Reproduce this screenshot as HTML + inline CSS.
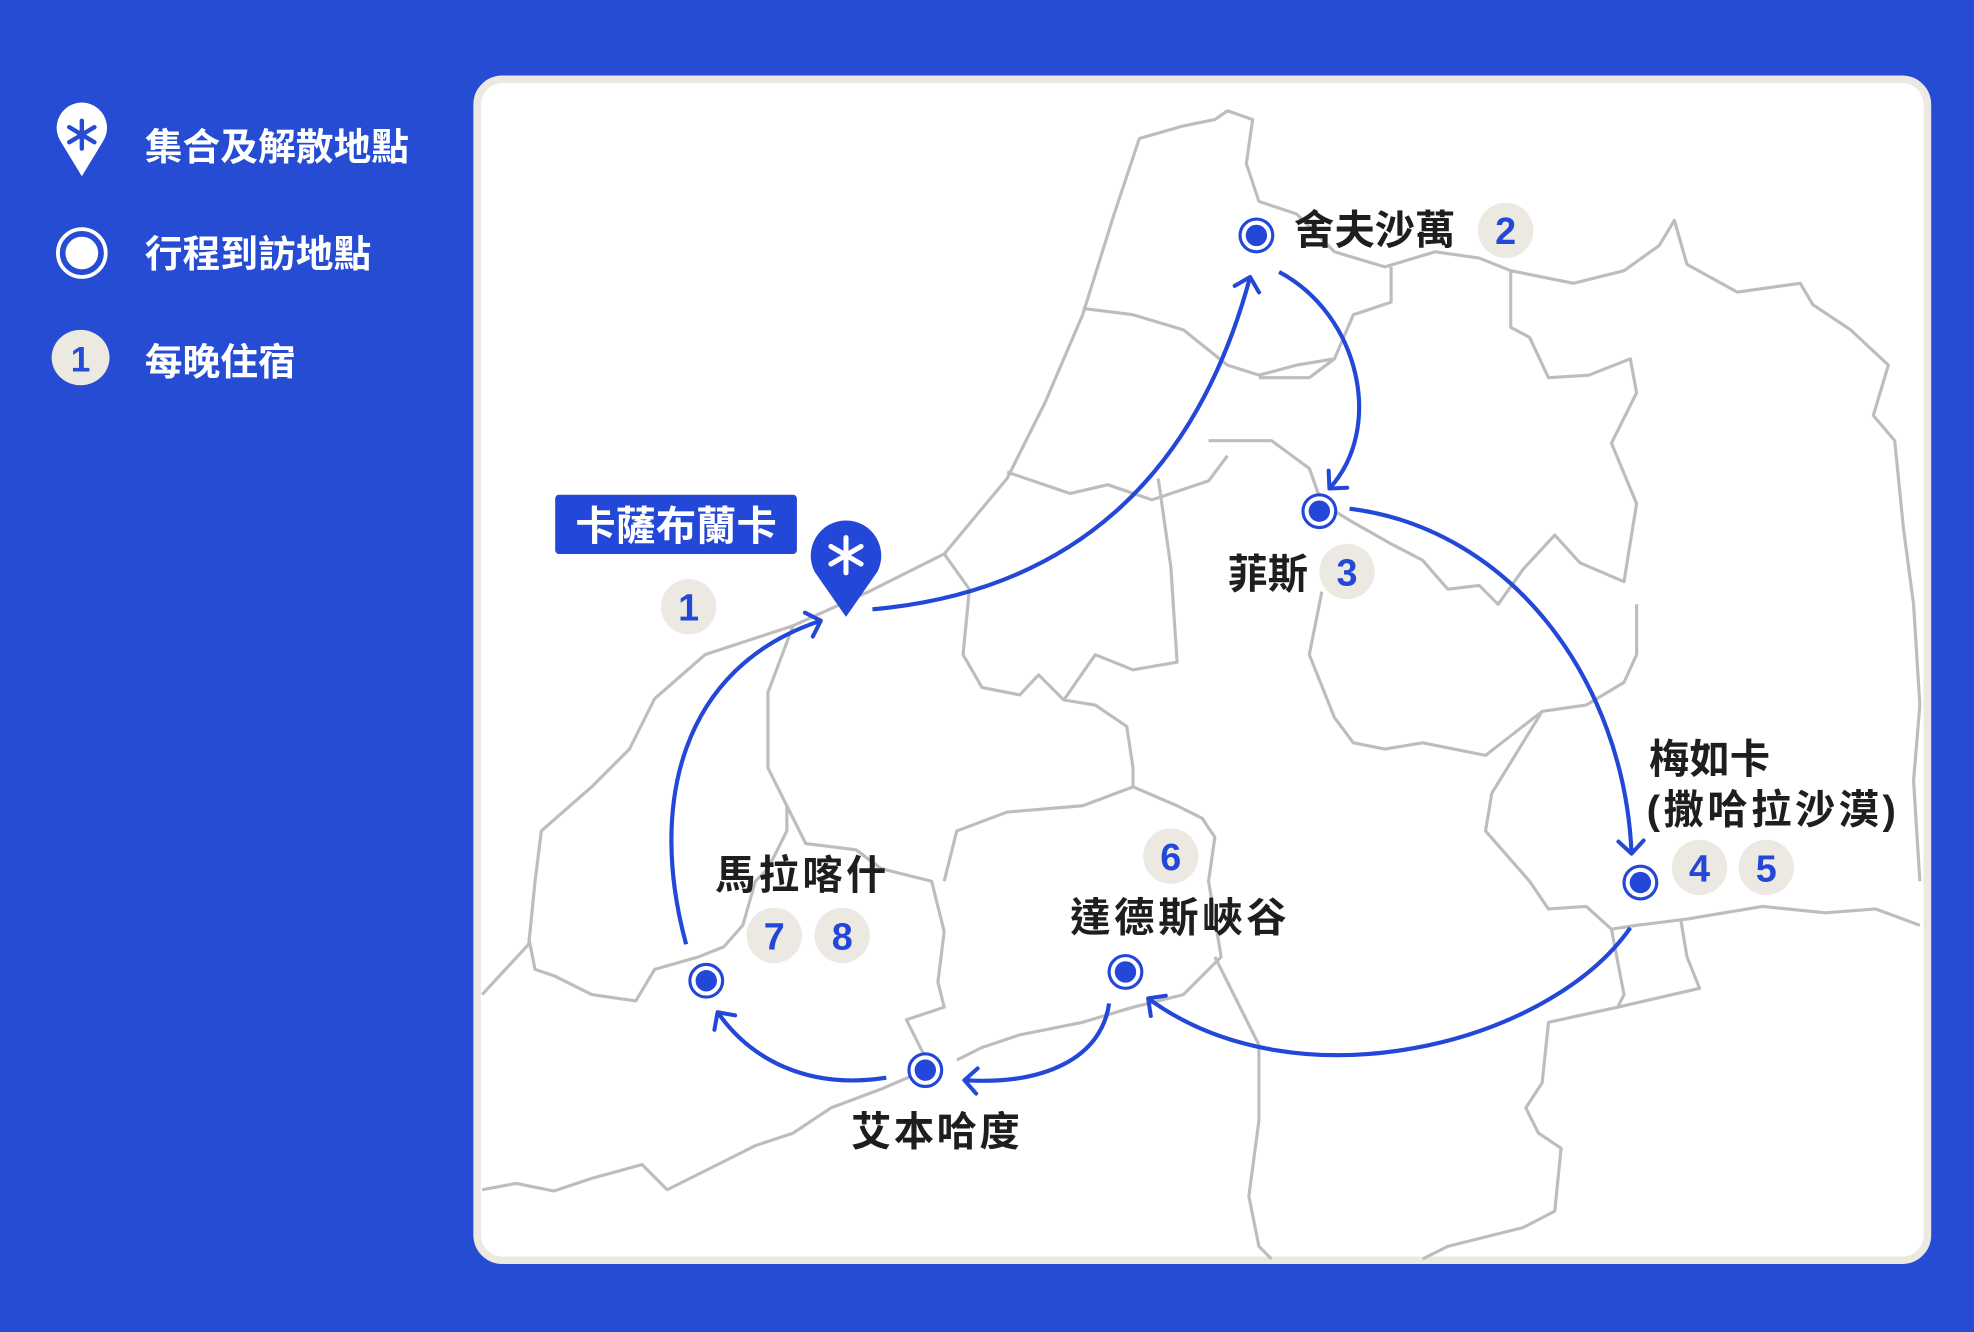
<!DOCTYPE html>
<html><head><meta charset="utf-8"><style>
html,body{margin:0;padding:0;background:#254CD3;}
svg{display:block;}
text{font-family:"Liberation Sans","Noto Sans CJK TC",sans-serif;font-weight:700;}
</style></head><body>
<svg width="1974" height="1332" viewBox="0 0 1568 1058" preserveAspectRatio="none" xmlns="http://www.w3.org/2000/svg">
<defs>
<marker id="ah" viewBox="0 0 24 24" refX="12" refY="12" markerWidth="24" markerHeight="24" markerUnits="userSpaceOnUse" orient="auto">
<path d="M2,2 L12,12 L2,22" fill="none" stroke="#2347D6" stroke-width="3.2" stroke-linecap="round" stroke-linejoin="round"/>
</marker>
</defs>
<rect width="1568" height="1058" fill="#254CD3"/>
<rect x="379" y="63" width="1152" height="938" rx="20" fill="#fff" stroke="#ECE9E3" stroke-width="6"/>

<path d="M65,140 L48,112 A20,20 0 1,1 82,112 Z" fill="#fff"/>
<g stroke="#254CD3" stroke-width="3.5" stroke-linecap="round"><line x1="65" y1="96" x2="65" y2="118"/><line x1="55" y1="101" x2="75" y2="113"/><line x1="75" y1="101" x2="55" y2="113"/></g>
<text x="115" y="127" font-size="30" fill="#fff">集合及解散地點</text>
<circle cx="65" cy="201" r="19" fill="none" stroke="#fff" stroke-width="3"/>
<circle cx="65" cy="201" r="13" fill="#fff"/>
<text x="115" y="212" font-size="30" fill="#fff">行程到訪地點</text>
<ellipse cx="64" cy="284" rx="23" ry="22" fill="#ECE9E3"/>
<text x="64" y="295" font-size="28" fill="#254CD3" text-anchor="middle">1</text>
<text x="115" y="298" font-size="30" fill="#fff">每晚住宿</text>

<g fill="none" stroke="#BDBDBD" stroke-width="2.5" stroke-linejoin="round">
<path d="M383,790 L420,750 L425,700 L430,660 L470,625 L500,595 L520,555 L560,520 L630,497 L690,470 L750,440 L800,380 L830,320 L860,250 L885,170 L905,110 L940,100 L965,95 L975,88 L995,95 L990,130 L1000,160 L1030,170 L1060,200 L1100,212 L1140,200 L1175,205 L1200,215 L1250,225 L1290,215 L1318,195 L1330,175 L1340,210 L1380,232 L1430,225 L1440,242 L1470,262 L1500,290 L1488,330 L1505,350 L1512,420 L1520,480 L1525,560"/>
<path d="M860,245 L900,250 L940,262 L975,290 L1000,298 L1030,290 L1060,285"/>
<path d="M800,375 L850,392 L880,385 L915,397 L960,382 L975,362"/>
<path d="M750,440 L770,468 L765,520 L780,546 L810,552 L825,536 L845,556 L870,520 L900,532 L935,526 L930,450 L920,380"/>
<path d="M960,350 L1010,350 L1040,372 L1050,400 L1075,415 L1105,432 L1130,445 L1150,468 L1175,465 L1190,480 L1210,452 L1235,425 L1255,447 L1290,462 L1300,400 L1280,352 L1300,312 L1295,285 L1262,298 L1230,300 L1215,268 L1200,260 L1200,215"/>
<path d="M1050,470 L1040,520 L1060,570 L1075,590 L1100,595 L1130,590 L1180,600 L1225,565 L1260,560 L1290,542 L1300,520 L1300,480"/>
<path d="M1225,565 L1185,630 L1180,660 L1215,700 L1230,722 L1260,720 L1280,738 L1300,735 L1340,730 L1400,720 L1450,725 L1490,722 L1525,735"/>
<path d="M1525,560 L1520,620 L1525,700"/>
<path d="M1280,738 L1290,790 L1285,800 L1350,785 L1340,760 L1335,730"/>
<path d="M1285,800 L1230,812 L1225,860 L1212,880 L1222,900 L1240,912 L1235,962 L1210,975 L1150,990 L1130,1000"/>
<path d="M965,760 L1000,830 L1000,890 L992,950 L1000,990 L1010,1000"/>
<path d="M630,497 L610,550 L610,610 L625,640 L625,660 L610,690 L600,700 L590,735 L575,752 L555,760 L520,770 L505,795 L470,790 L440,775 L425,770 L420,745"/>
<path d="M625,640 L640,670 L680,675 L700,690 L740,700 L750,740 L745,780 L750,800 L720,810 L735,840"/>
<path d="M750,700 L760,660 L800,645 L860,640 L900,625 L935,640 L955,650 L965,665 L960,700 L970,760 L940,790 L900,800 L860,812 L810,822 L780,832 L760,842"/>
<path d="M845,556 L870,560 L895,577 L900,610 L900,625"/>
<path d="M383,945 L410,940 L440,946 L470,936 L510,925 L530,945 L560,930 L600,910 L630,900 L660,880 L700,865 L735,850"/>
<path d="M1105,212 L1105,240 L1075,250 L1060,285 L1040,300 L1000,300"/>
</g>

<g fill="none" stroke="#2347D6" stroke-width="3.3" marker-end="url(#ah)">
<path d="M693,484 C850,470 950,380 993,220"/>
<path d="M1016,216 C1080,250 1100,340 1056,388"/>
<path d="M1072,404 C1200,420 1290,540 1296,678"/>
<path d="M1295,737 C1230,830 1030,880 912,793"/>
<path d="M881,797 C875,840 830,862 766,858"/>
<path d="M704,856 C640,866 595,840 570,804"/>
<path d="M545,750 C515,640 540,530 652,493"/>
</g>

<g fill="#fff" stroke="#2347D6" stroke-width="2.5">
<circle cx="998" cy="187" r="13"/><circle cx="1048" cy="406" r="13"/><circle cx="1303" cy="701" r="13"/>
<circle cx="894" cy="772" r="13"/><circle cx="735" cy="850" r="13"/><circle cx="561" cy="779" r="13"/>
</g>
<g fill="#2347D6">
<circle cx="998" cy="187" r="8.5"/><circle cx="1048" cy="406" r="8.5"/><circle cx="1303" cy="701" r="8.5"/>
<circle cx="894" cy="772" r="8.5"/><circle cx="735" cy="850" r="8.5"/><circle cx="561" cy="779" r="8.5"/>
</g>

<path d="M672,490 L647,454 A28,28 0 1,1 697,454 Z" fill="#2347D6"/>
<g stroke="#fff" stroke-width="4" stroke-linecap="round"><line x1="672" y1="427" x2="672" y2="455"/><line x1="660" y1="434" x2="684" y2="448"/><line x1="684" y1="434" x2="660" y2="448"/></g>

<rect x="441" y="393" width="192" height="47" rx="3" fill="#2347D6"/>
<text x="537" y="429" font-size="32" fill="#fff" text-anchor="middle">卡薩布蘭卡</text>

<g font-size="32" fill="#1E1E1E">
<text x="1028" y="194">舍夫沙萬</text>
<text x="975" y="467">菲斯</text>
<text x="1310" y="614">梅如卡</text>
<text x="1308" y="654" textLength="198">(撒哈拉沙漠)</text>
<text x="850" y="740" textLength="172">達德斯峽谷</text>
<text x="568" y="706" textLength="136">馬拉喀什</text>
<text x="676" y="910" textLength="134">艾本哈度</text>
</g>

<g fill="#ECE9E3">
<ellipse cx="1196" cy="183" rx="22" ry="22"/><ellipse cx="1070" cy="454" rx="22" ry="22"/>
<ellipse cx="1350" cy="689" rx="22" ry="22"/><ellipse cx="1403" cy="689" rx="22" ry="22"/>
<ellipse cx="930" cy="680" rx="22" ry="22"/><ellipse cx="615" cy="743" rx="22" ry="22"/>
<ellipse cx="669" cy="743" rx="22" ry="22"/><ellipse cx="547" cy="482" rx="22" ry="22"/>
</g>
<g font-size="30" fill="#2347D6" text-anchor="middle">
<text x="1196" y="194">2</text><text x="1070" y="465">3</text>
<text x="1350" y="700">4</text><text x="1403" y="700">5</text>
<text x="930" y="691">6</text><text x="615" y="754">7</text>
<text x="669" y="754">8</text><text x="547" y="493">1</text>
</g>
</svg>
</body></html>
